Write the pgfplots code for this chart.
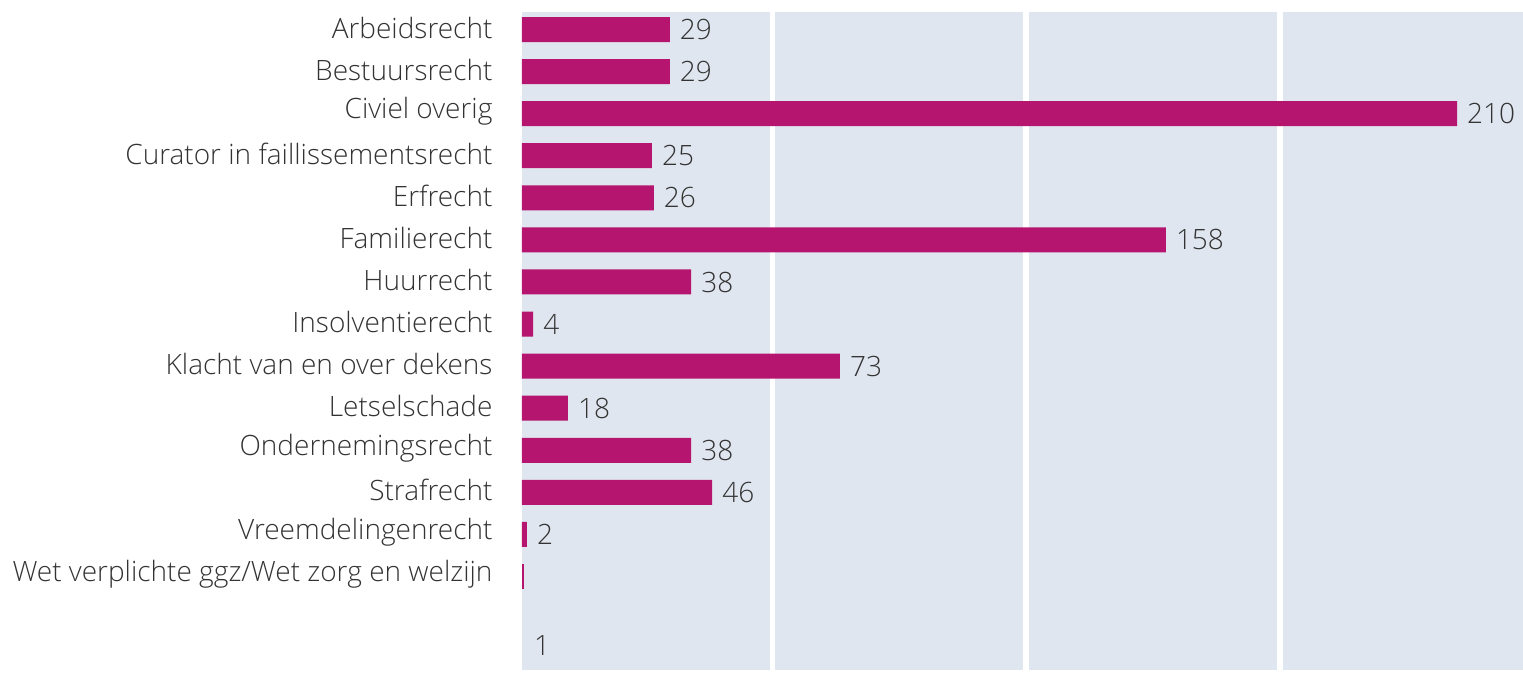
\documentclass[border=0pt]{standalone}
\usepackage{pgfplots}
\pgfplotsset{compat=1.18}
\usepackage{fontspec}
\setmainfont{Open Sans}[UprightFont={* Light}]
\usetikzlibrary{calc}
\definecolor{barc}{HTML}{B5156E}
\definecolor{bgc}{HTML}{E0E6F0}
\definecolor{txt}{HTML}{333333}
\begin{document}
\fontsize{28pt}{32pt}\selectfont
\begin{tikzpicture}
\begin{axis}[
  scale only axis,
  width=1001pt, height=658pt,
  xbar, bar width=25pt, bar shift=0pt,
  xmin=0, xmax=224.8,
  ymin=-0.416, ymax=15.22,
  y dir=reverse,
  axis background/.style={fill=bgc},
  axis line style={draw=none},
  xtick={56.27,113.2,170.3},
  xticklabels={},
  xmajorgrids,
  grid style={white, line width=5.5pt},
  major tick length=0pt,
  ytick={0,...,13},
  yticklabels={Arbeidsrecht,Bestuursrecht,Civiel overig,Curator in faillissementsrecht,Erfrecht,Familierecht,Huurrecht,Insolventierecht,Klacht van en over dekens,Letselschade,Ondernemingsrecht,Strafrecht,Vreemdelingenrecht,Wet verplichte ggz/Wet zorg en welzijn},
  yticklabel style={font=\fontsize{28pt}{32pt}\selectfont, text=txt, xshift=-20pt, yshift=2pt},
  nodes near coords style={font=\fontsize{28pt}{32pt}\selectfont, text=txt, anchor=west, inner sep=0pt, xshift=10pt},
]
\addplot[fill=barc, draw=none, nodes near coords, point meta=explicit symbolic] table[x=v, y=i, meta=lab] {
i v lab
0 33.2 29
1 33.2 29
2 210 210
3 29.2 25
4 29.6 26
5 144.6 158
6 38.0 38
7 2.5 4
8 71.4 73
9 10.3 18
10 38.0 38
11 42.7 46
12 1.1 2
};
\addplot[fill=barc, draw=none] table[x=v, y=i] {
i v
13 0.45
};
\node[anchor=west, inner sep=0pt, text=txt, font=\fontsize{28pt}{32pt}\selectfont] at (axis cs:0.45,14.65) {\hspace{10pt}1};
\end{axis}
\path ($(current axis.south west)+(-522pt,0)$) rectangle ($(current axis.north east)+(0,12pt)$);
\end{tikzpicture}
\end{document}
